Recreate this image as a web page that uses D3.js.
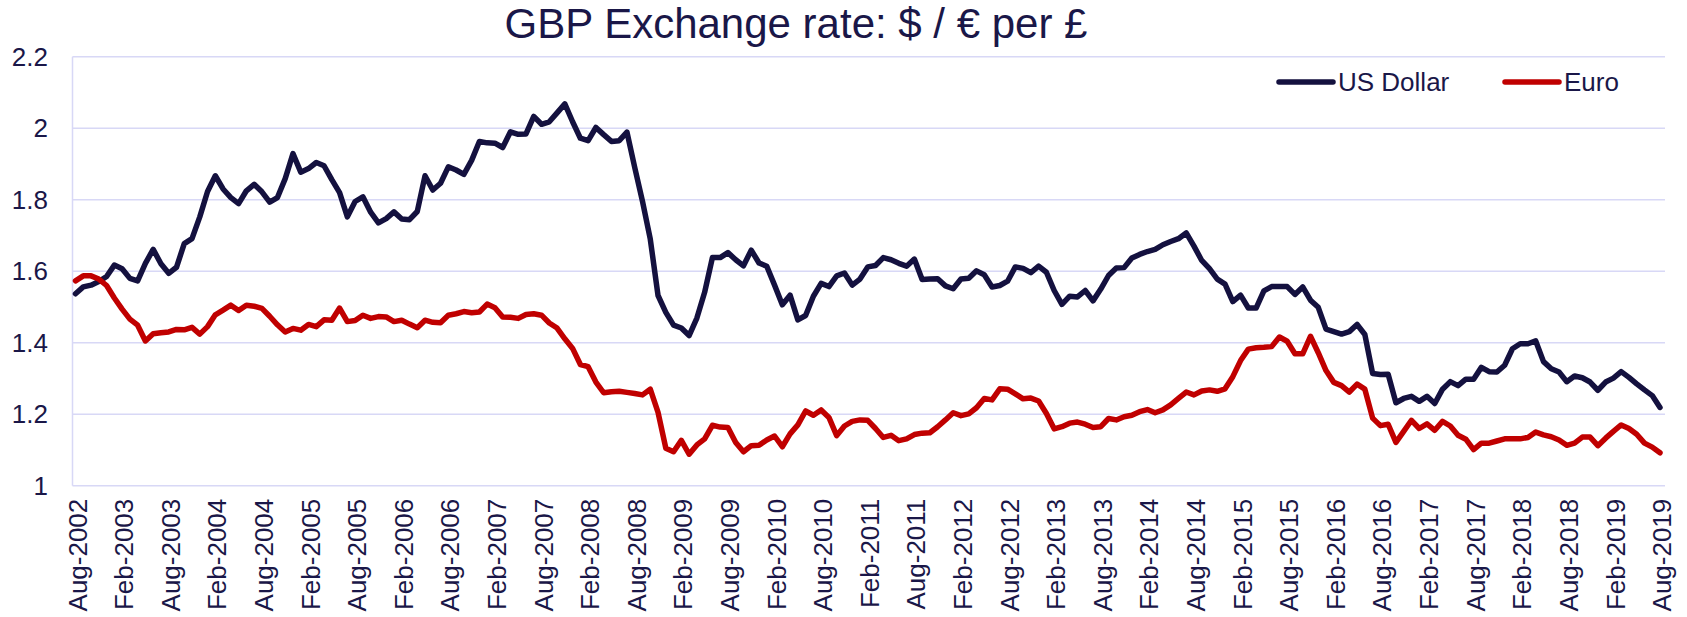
<!DOCTYPE html>
<html>
<head>
<meta charset="utf-8">
<script src="https://cdn.jsdelivr.net/npm/d3@7"></script>
<style>
  html, body { margin: 0; padding: 0; background: #ffffff; }
  svg { display: block; }
  text { font-family: "Liberation Sans", Arial, sans-serif; }
</style>
</head>
<body>
<svg id="chart" width="1687" height="617"></svg>
<script>
// ---------- DATA ----------
const title = "GBP Exchange rate: $ / € per £";
const seriesNames = ["US Dollar", "Euro"];
const monthNames = ["Jan","Feb","Mar","Apr","May","Jun","Jul","Aug","Sep","Oct","Nov","Dec"];
const startYear = 2002, startMonth = 7, monthCount = 205; // Aug-2002 .. Aug-2019
const yTicks = [1, 1.2, 1.4, 1.6, 1.8, 2, 2.2];

const usd = [
  1.537, 1.556, 1.561, 1.571, 1.585,
  1.617, 1.607, 1.580, 1.573, 1.622, 1.661, 1.621, 1.594, 1.611, 1.677, 1.691, 1.752,
  1.823, 1.867, 1.830, 1.806, 1.789, 1.825, 1.843, 1.822, 1.793, 1.806, 1.859, 1.929,
  1.877, 1.887, 1.904, 1.895, 1.856, 1.820, 1.752, 1.795, 1.808, 1.765, 1.735, 1.747,
  1.766, 1.746, 1.744, 1.767, 1.867, 1.827, 1.846, 1.892, 1.883, 1.871, 1.910, 1.963,
  1.959, 1.958, 1.946, 1.990, 1.983, 1.984, 2.033, 2.011, 2.018, 2.043, 2.068, 2.018,
  1.972, 1.965, 2.002, 1.982, 1.963, 1.965, 1.989, 1.890, 1.795, 1.690, 1.532, 1.485,
  1.449, 1.441, 1.420, 1.469, 1.541, 1.638, 1.638, 1.652, 1.632, 1.615, 1.659, 1.623,
  1.614, 1.561, 1.506, 1.533, 1.464, 1.476, 1.530, 1.566, 1.557, 1.587, 1.595, 1.561,
  1.578, 1.612, 1.616, 1.638, 1.632, 1.622, 1.614, 1.634, 1.577, 1.578, 1.579, 1.559,
  1.551, 1.578, 1.580, 1.601, 1.590, 1.556, 1.560, 1.572, 1.612, 1.608, 1.596, 1.614,
  1.597, 1.546, 1.507, 1.530, 1.528, 1.546, 1.517, 1.550, 1.588, 1.609, 1.610, 1.637,
  1.647, 1.655, 1.661, 1.674, 1.683, 1.691, 1.707, 1.670, 1.630, 1.607, 1.578, 1.564,
  1.515, 1.533, 1.497, 1.497, 1.545, 1.557, 1.557, 1.557, 1.535, 1.556, 1.519, 1.499,
  1.438, 1.431, 1.424, 1.431, 1.451, 1.423, 1.314, 1.311, 1.312, 1.232, 1.244, 1.250,
  1.236, 1.250, 1.230, 1.270, 1.291, 1.280, 1.298, 1.298, 1.331, 1.319, 1.318, 1.337,
  1.383, 1.397, 1.397, 1.405, 1.347, 1.327, 1.318, 1.291, 1.307, 1.302, 1.290, 1.267,
  1.290, 1.301, 1.319, 1.303, 1.285, 1.268, 1.252, 1.219
];

const eur = [
  1.573, 1.587, 1.587, 1.578, 1.560,
  1.525, 1.494, 1.466, 1.449, 1.405, 1.425, 1.428, 1.430, 1.437, 1.436, 1.443, 1.424,
  1.445, 1.478, 1.491, 1.505, 1.490, 1.505, 1.502, 1.496, 1.474, 1.450, 1.430, 1.440,
  1.435, 1.451, 1.445, 1.464, 1.463, 1.497, 1.459, 1.462, 1.477, 1.468, 1.473, 1.472,
  1.459, 1.463, 1.452, 1.442, 1.463, 1.457, 1.456, 1.477, 1.481, 1.487, 1.484, 1.486,
  1.508, 1.498, 1.472, 1.471, 1.468, 1.479, 1.481, 1.477, 1.455, 1.441, 1.411, 1.384,
  1.339, 1.333, 1.290, 1.260, 1.263, 1.264, 1.261, 1.258, 1.254, 1.270, 1.205, 1.105,
  1.095, 1.127, 1.088, 1.114, 1.131, 1.169, 1.164, 1.163, 1.121, 1.095, 1.112, 1.113,
  1.128, 1.139, 1.109, 1.145, 1.170, 1.209, 1.197, 1.212, 1.191, 1.140, 1.167, 1.180,
  1.184, 1.183, 1.160, 1.135, 1.141, 1.126, 1.131, 1.143, 1.147, 1.148, 1.165, 1.184,
  1.204, 1.196, 1.201, 1.218, 1.244, 1.240, 1.271, 1.270, 1.257, 1.243, 1.245, 1.237,
  1.202, 1.159, 1.165, 1.175, 1.178, 1.172, 1.163, 1.165, 1.188, 1.184, 1.193, 1.197,
  1.207, 1.213, 1.204, 1.212, 1.226, 1.244, 1.262, 1.254, 1.265, 1.268, 1.264, 1.271,
  1.305, 1.350, 1.382, 1.386, 1.387, 1.389, 1.416, 1.404, 1.369, 1.369, 1.418, 1.372,
  1.322, 1.289, 1.280, 1.262, 1.284, 1.270, 1.189, 1.168, 1.172, 1.121, 1.152, 1.183,
  1.160, 1.173, 1.155, 1.180, 1.167, 1.141, 1.130, 1.101, 1.119, 1.119, 1.125, 1.131,
  1.131, 1.131, 1.135, 1.150, 1.142, 1.137, 1.128, 1.113, 1.119, 1.136, 1.136, 1.112,
  1.133, 1.152, 1.170, 1.160, 1.144, 1.119, 1.108, 1.092
];

const colors = { usd: "#14113f", eur: "#c00000", text: "#1a1748", grid: "#d8d8f6" };

// categories (month labels)
const categories = [];
for (let k = 0; k < monthCount; k++) {
  const m = (startMonth + k) % 12;
  const yr = startYear + Math.floor((startMonth + k) / 12);
  categories.push(monthNames[m] + "-" + yr);
}
const tickLabels = categories.filter((d, i) => i % 6 === 0);

// ---------- LAYOUT ----------
const svg = d3.select("#chart");
svg.append("rect").attr("width", 1687).attr("height", 617).attr("fill", "#fff");

const plot = { left: 72.5, right: 1665, top: 56.7, bottom: 485.7 };
const x = d3.scalePoint().domain(categories).range([75.5, 1660]);
const y = d3.scaleLinear().domain([1, 2.2]).range([plot.bottom, plot.top]);

// gridlines
svg.append("g").selectAll("line").data(yTicks).join("line")
  .attr("x1", plot.left).attr("x2", plot.right)
  .attr("y1", d => y(d)).attr("y2", d => y(d))
  .attr("stroke", colors.grid).attr("stroke-width", 1.5);
// left axis line
svg.append("line").attr("x1", plot.left).attr("x2", plot.left)
  .attr("y1", plot.top).attr("y2", plot.bottom)
  .attr("stroke", colors.grid).attr("stroke-width", 1.5);

// y axis labels
const yAxis = d3.axisLeft(y).tickValues(yTicks).tickFormat(d => String(d)).tickSize(0).tickPadding(0);
const gy = svg.append("g").attr("transform", `translate(48,0)`).call(yAxis);
gy.select(".domain").remove();
gy.selectAll("text").attr("fill", colors.text).style("font-size", "26px")
  .style("font-family", "'Liberation Sans', Arial, sans-serif");

// x axis labels
const xAxis = d3.axisBottom(x).tickValues(tickLabels).tickSize(0).tickPadding(0);
const gx = svg.append("g").attr("transform", `translate(0,${plot.bottom})`).call(xAxis);
gx.select(".domain").remove();
gx.selectAll("text")
  .attr("transform", "rotate(-90)")
  .attr("x", -13).attr("y", 1.5).attr("dy", "0.35em")
  .style("text-anchor", "end")
  .attr("fill", colors.text).style("font-size", "26px")
  .style("font-family", "'Liberation Sans', Arial, sans-serif");

// lines
const line = d3.line().x((d, i) => x(categories[i])).y(d => y(d));
svg.append("path").datum(usd).attr("d", line)
  .attr("fill", "none").attr("stroke", colors.usd).attr("stroke-width", 5.5)
  .attr("stroke-linejoin", "round").attr("stroke-linecap", "round");
svg.append("path").datum(eur).attr("d", line)
  .attr("fill", "none").attr("stroke", colors.eur).attr("stroke-width", 5.5)
  .attr("stroke-linejoin", "round").attr("stroke-linecap", "round");

// title
svg.append("text").attr("x", 796).attr("y", 38).attr("text-anchor", "middle")
  .attr("fill", colors.text).style("font-size", "42px").text(title);

// legend
const legend = [
  { name: seriesNames[0], color: colors.usd, x: 1279 },
  { name: seriesNames[1], color: colors.eur, x: 1505 }
];
const lg = svg.append("g");
legend.forEach(l => {
  lg.append("line").attr("x1", l.x).attr("x2", l.x + 54).attr("y1", 82).attr("y2", 82)
    .attr("stroke", l.color).attr("stroke-width", 5.5).attr("stroke-linecap", "round");
  lg.append("text").attr("x", l.x + 59).attr("y", 91).attr("fill", colors.text)
    .style("font-size", "26px").text(l.name);
});
</script>
</body>
</html>
